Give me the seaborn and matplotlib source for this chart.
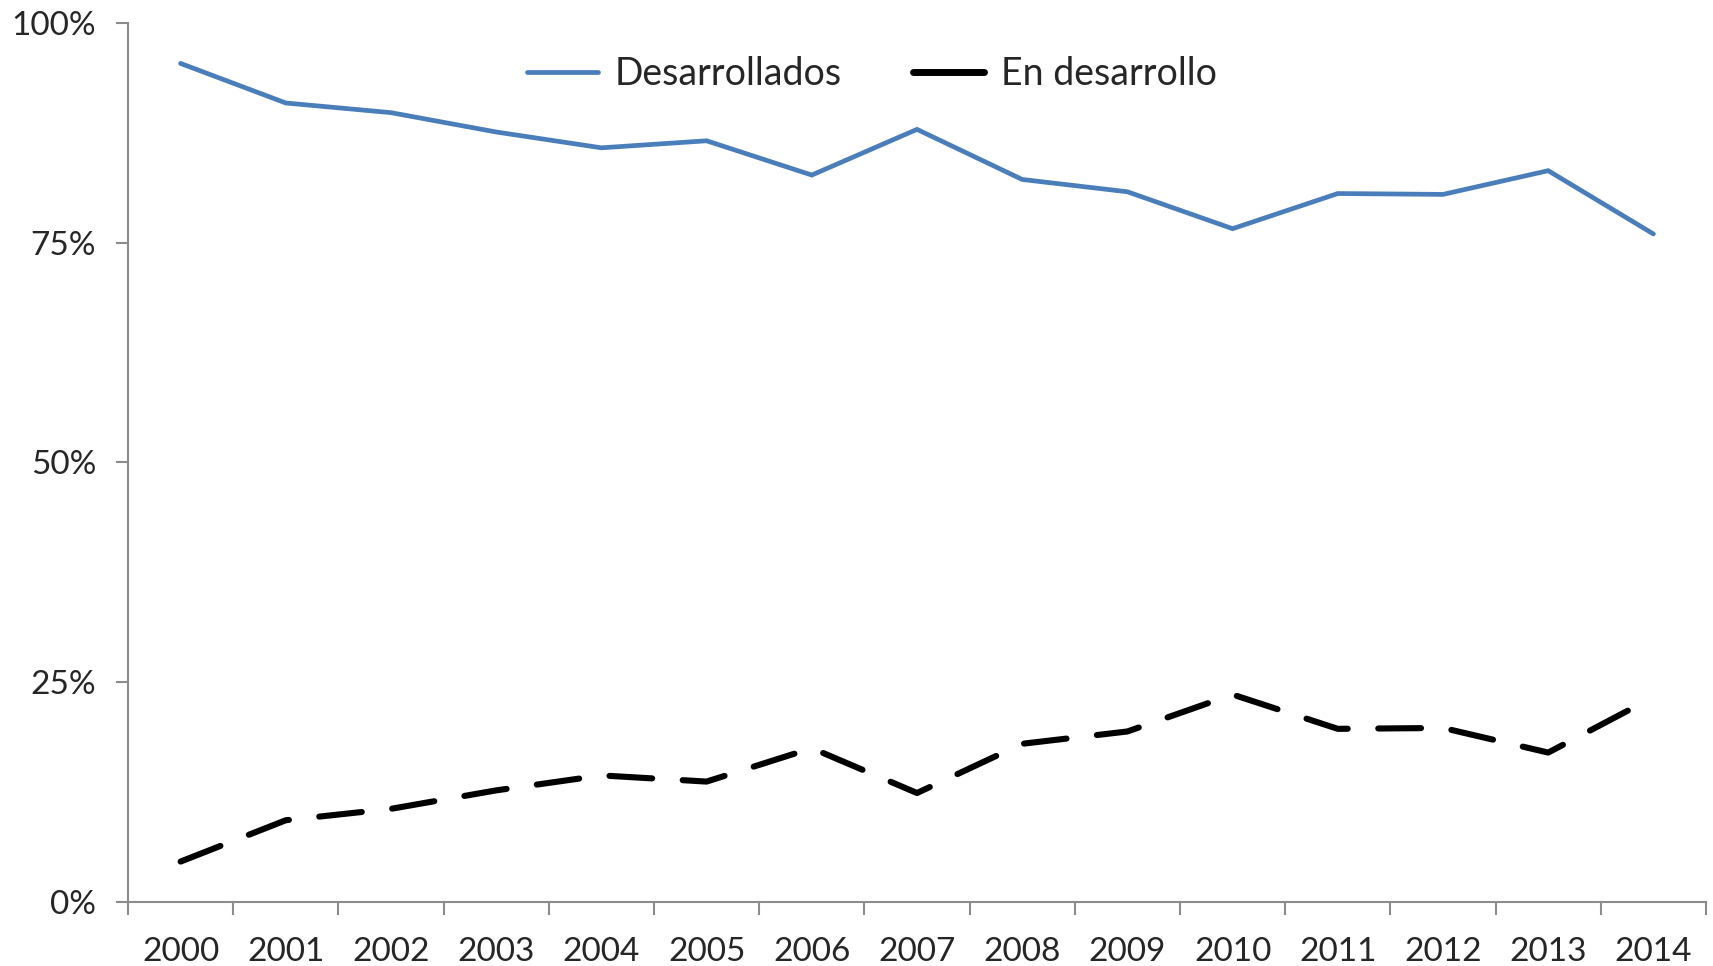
import numpy as np
import pandas as pd
import seaborn as sns
import matplotlib.pyplot as plt
from matplotlib.lines import Line2D
from matplotlib.ticker import FixedLocator, PercentFormatter

# Chart data (shares, %)
years = [str(y) for y in range(2000, 2015)]
desarrollados = [95.4, 90.9, 89.8, 87.6, 85.8, 86.6, 82.7, 87.9, 82.2, 80.8, 76.6, 80.6, 80.5, 83.2, 76.0]
en_desarrollo = [4.6, 9.3, 10.6, 12.7, 14.4, 13.7, 17.5, 12.4, 18.0, 19.4, 23.6, 19.7, 19.8, 17.0, 23.3]
y_ticks = [0, 25, 50, 75, 100]

df = pd.DataFrame({
    'year': years * 2,
    'pos': list(range(len(years))) * 2,
    'value': desarrollados + en_desarrollo,
    'serie': ['Desarrollados'] * len(years) + ['En desarrollo'] * len(years),
})

sns.set_style('white')
plt.rcParams['font.family'] = ['Lato', 'DejaVu Sans']

fig = plt.figure(figsize=(17.13, 9.66), dpi=100)
ax = fig.add_axes([128 / 1713, 1 - 902 / 966, (1706 - 128) / 1713, (902 - 23) / 966])

sns.lineplot(data=df, x='pos', y='value', hue='serie', style='serie',
             palette={'Desarrollados': '#4a7ebb', 'En desarrollo': 'black'},
             dashes={'Desarrollados': '', 'En desarrollo': (7.0, 5.0)},
             ax=ax, legend=False)
lines = ax.get_lines()
lines[0].set_linewidth(3.4)
lines[1].set_linewidth(4.4)
for ln in lines:
    ln.set_solid_capstyle('round')
    ln.set_dash_capstyle('round')
    ln.set_solid_joinstyle('miter')

ax.set_xlim(-0.5, len(years) - 0.5)
ax.set_ylim(0, 100)

# category axis: ticks at boundaries, labels centred
ax.xaxis.set_major_locator(FixedLocator(range(len(years))))
ax.set_xticklabels(years)
ax.xaxis.set_minor_locator(FixedLocator(np.arange(-0.5, len(years), 1.0)))
ax.tick_params(axis='x', which='major', length=0, pad=25, labelsize=24)
ax.tick_params(axis='x', which='minor', length=9, width=1.5, color='#8c8c8c', direction='out', bottom=True)

ax.set_yticks(y_ticks)
ax.yaxis.set_major_formatter(PercentFormatter(decimals=0))
ax.tick_params(axis='y', length=9, width=1.5, color='#8c8c8c', direction='out', left=True, pad=14, labelsize=24)

for side in ['top', 'right']:
    ax.spines[side].set_visible(False)
for side in ['left', 'bottom']:
    ax.spines[side].set_color('#8c8c8c')
    ax.spines[side].set_linewidth(1.5)

ax.set_xlabel('')
ax.set_ylabel('')

handles = [Line2D([], [], color='#4a7ebb', lw=3.4, solid_capstyle='round'),
           Line2D([], [], color='black', lw=5, solid_capstyle='round')]
ax.legend(handles, ['Desarrollados', 'En desarrollo'], loc='center',
          bbox_to_anchor=((872 - 128) / (1706 - 128), (902 - 74) / (902 - 23)),
          ncol=2, frameon=False, fontsize=27, handlelength=1.9,
          handletextpad=0.45, columnspacing=1.9)

fig.savefig('out.png', dpi=100)
